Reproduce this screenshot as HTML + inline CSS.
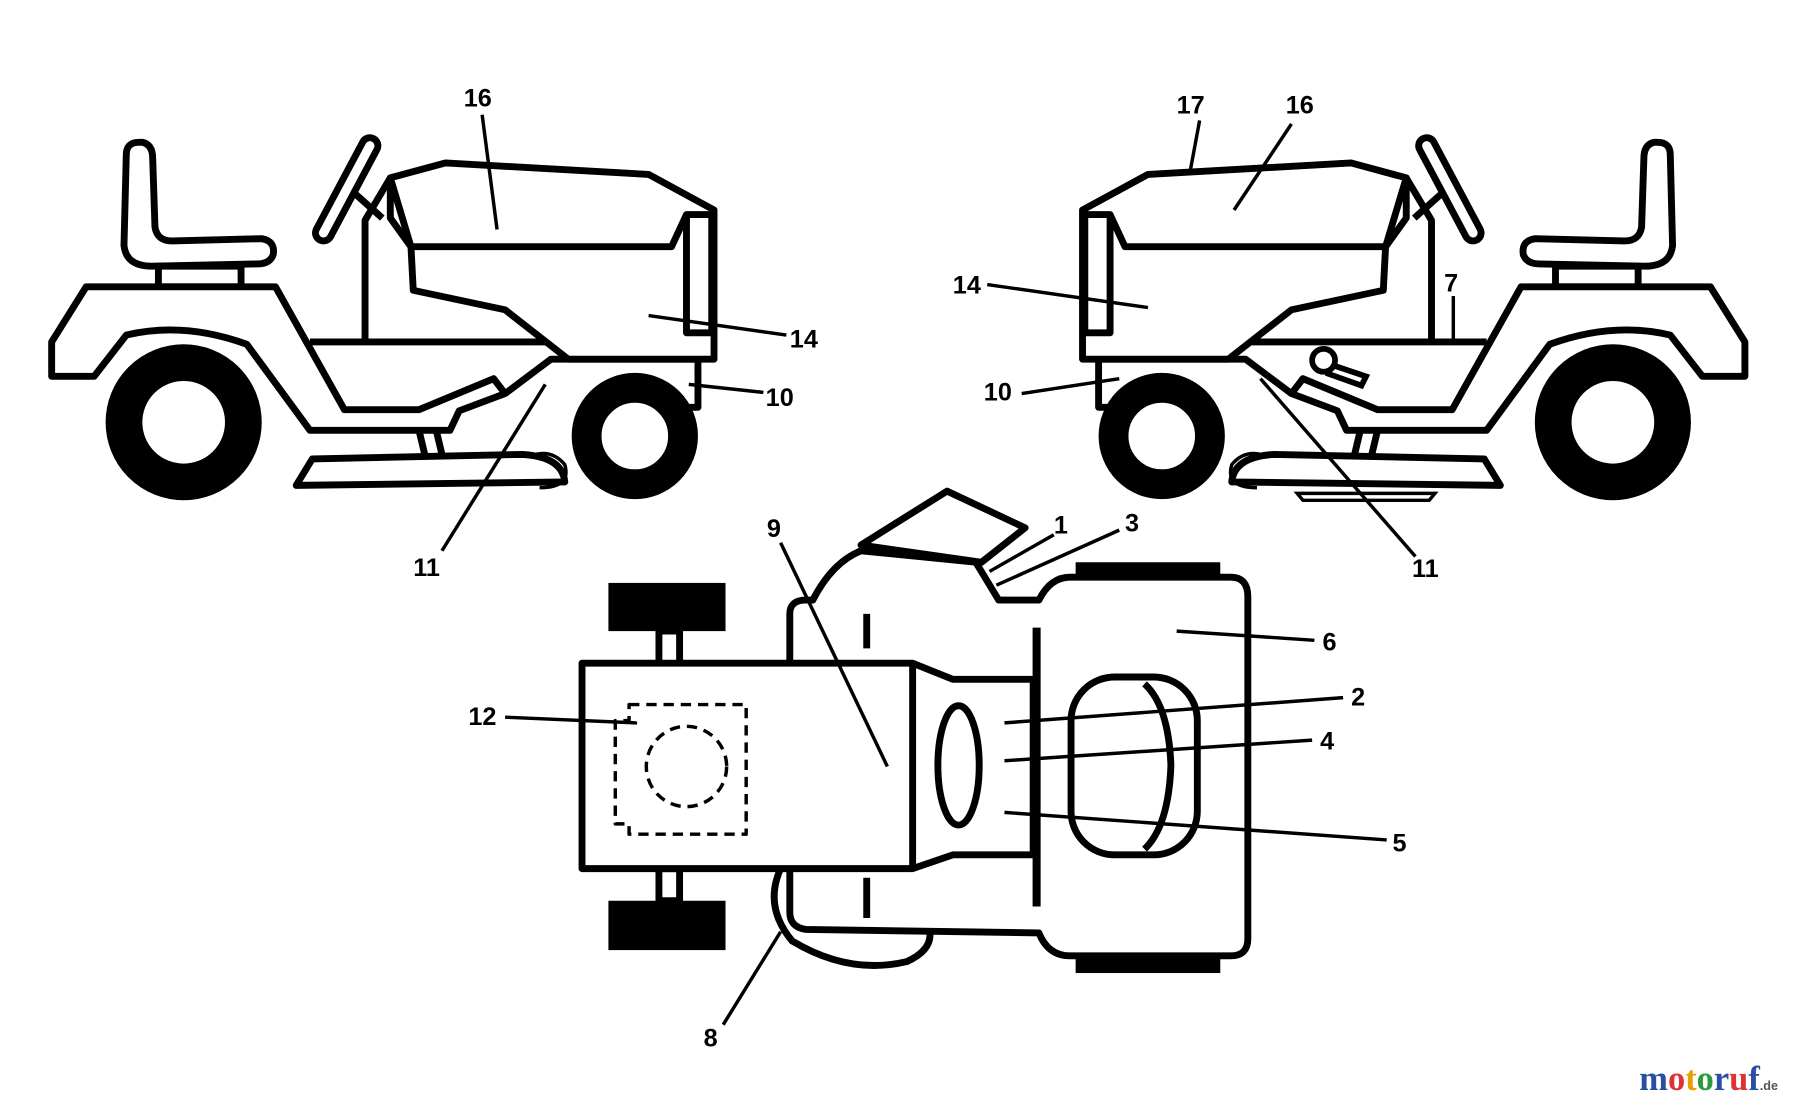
<!DOCTYPE html>
<html><head><meta charset="utf-8"><style>
html,body{margin:0;padding:0;background:#fff;}
svg{display:block;}
text{font-family:"Liberation Sans",sans-serif;font-weight:bold;font-size:22px;fill:#000;}
</style></head><body>
<svg width="1800" height="1105" viewBox="0 0 1568 963" preserveAspectRatio="none" xmlns="http://www.w3.org/2000/svg">
<defs>
<g id="tractor" fill="#fff" stroke="#000" stroke-width="6" stroke-linejoin="round">
  <path d="M110,135 Q110,124 121,124 L124,124 Q133,126 133,138 L135,198 Q137,210 150,210 L228,208 Q240,210 238,222 Q235,230 224,230 L132,232 Q110,232 108,214 Z"/>
  <rect x="138" y="232" width="72" height="18"/>
  <path d="M75,250 L240,250 L300,357 L365,357 L430,330 L440,343 L400,358 L392,375 L270,375 L215,300 Q160,280 110,292 L82,328 L45,328 L45,298 Z"/>
  <path d="M270,298 L495,298 L495,313 L608,313 L608,355 L595,355 M440,343 L480,313 L495,313" fill="none"/>
  <path d="M340,155 L388,142 L565,152 L622,183 L622,313 L495,313 L440,270 L360,253 L358,215 L340,190 Z"/>
  <path d="M360,215 L585,215 L598,187" fill="none"/>
  <rect x="598" y="187" width="22" height="103"/>
  <path d="M340,155 L358,215" fill="none"/>
  <path d="M340,155 L318,192 L318,298" fill="none"/>
  <path d="M305,165 L333,190" fill="none"/>
  <rect x="295" y="115" width="14" height="100" rx="7" transform="rotate(28 302 165)"/>
  <circle cx="160" cy="368" r="52" stroke-width="32"/>
  <circle cx="553" cy="380" r="42" stroke-width="26"/>
  <path d="M258,423 L272,400 L455,396 Q490,398 492,420 L258,423 Z"/>
  <path d="M365,375 L370,396 M380,375 L385,396" fill="none"/>
  <path d="M460,398 Q480,390 492,405 Q498,425 470,425" fill="none" stroke-width="3"/>
</g>
</defs>

<use href="#tractor"/>
<use href="#tractor" transform="translate(1565,0) scale(-1,1)"/>
<g fill="#fff" stroke="#000" stroke-width="5">
  <path d="M1160,318 L1190,328 L1186,336 L1155,325"/>
  <circle cx="1153" cy="314" r="10"/>
  <path d="M1130,430 L1250,430 L1245,436 L1135,436 Z" stroke-width="3"/>
</g>

<!-- top view -->
<g fill="#fff" stroke="#000" stroke-width="6" stroke-linejoin="round">
  <rect x="530" y="508" width="102" height="42" fill="#000" stroke="none"/>
  <rect x="530" y="785" width="102" height="43" fill="#000" stroke="none"/>
  <rect x="937" y="490" width="126" height="15" fill="#000" stroke="none"/>
  <rect x="937" y="831" width="126" height="17" fill="#000" stroke="none"/>
  <rect x="574" y="550" width="18" height="30"/>
  <rect x="574" y="757" width="18" height="28"/>
  <path d="M680,757 Q665,790 690,820 Q740,850 790,838 Q812,828 810,812" />
  <polygon points="750,475 825,428 893,460 855,490"/>
  <path d="M688,578 L688,535 Q688,523 702,523 L708,523 Q725,490 750,480 L850,490 L870,523 L905,523 Q915,503 932,503 L1072,503 Q1087,503 1087,520 L1087,818 Q1087,833 1072,833 L932,833 Q913,833 905,813 L702,810 Q688,808 688,795 L688,757 Z"/>
  <rect x="507" y="578" width="288" height="179"/>
  <path d="M795,578 L830,592 L900,592 L900,745 L830,745 L795,757" fill="none"/>
  <ellipse cx="835" cy="667" rx="18" ry="52"/>
  <path d="M903,547 L903,790" fill="none" stroke-width="7"/>
  <path d="M755,535 L755,565 M755,765 L755,800" fill="none"/>
  <rect x="933" y="590" width="110" height="155" rx="38"/>
  <path d="M997,596 Q1018,615 1020,667 Q1018,720 997,740" fill="none"/>
  <path d="M548,614 L650,614 L650,727 L548,727 L548,718 L536,718 L536,628 L548,628 Z" fill="none" stroke-width="3" stroke-dasharray="9,6"/>
  <circle cx="598" cy="668" r="35" fill="none" stroke-width="3" stroke-dasharray="9,6"/>
</g>

<!-- leader lines -->
<g stroke="#000" stroke-width="3" fill="none">
  <path d="M420,100 L433,200"/>
  <path d="M565,275 L685,292"/>
  <path d="M600,335 L665,342"/>
  <path d="M475,335 L385,480"/>
  <path d="M1045,105 L1037,148"/>
  <path d="M1125,108 L1075,183"/>
  <path d="M860,248 L1000,268"/>
  <path d="M1266,258 L1266,298"/>
  <path d="M890,343 L975,330"/>
  <path d="M1098,330 L1233,485"/>
  <path d="M918,466 L862,498"/>
  <path d="M975,462 L868,510"/>
  <path d="M680,473 L773,668"/>
  <path d="M440,625 L555,630"/>
  <path d="M1025,550 L1145,558"/>
  <path d="M875,630 L1170,608"/>
  <path d="M875,663 L1143,645"/>
  <path d="M875,708 L1208,732"/>
  <path d="M630,893 L680,812"/>
</g>

<text x="404" y="93">16</text>
<text x="688" y="303">14</text>
<text x="667" y="354">10</text>
<text x="360" y="502">11</text>
<text x="1025" y="99">17</text>
<text x="1120" y="99">16</text>
<text x="830" y="256">14</text>
<text x="1258" y="254">7</text>
<text x="857" y="349">10</text>
<text x="1230" y="503">11</text>
<text x="918" y="465">1</text>
<text x="980" y="463">3</text>
<text x="668" y="468">9</text>
<text x="408" y="632">12</text>
<text x="1152" y="567">6</text>
<text x="1177" y="615">2</text>
<text x="1150" y="653">4</text>
<text x="1213" y="742">5</text>
<text x="613" y="912">8</text>

<text x="1428" y="950" style="font-family:'Liberation Serif',serif;font-size:30px;font-weight:bold;">
<tspan fill="#2a4fa0">m</tspan><tspan fill="#d33">o</tspan><tspan fill="#e8a000">t</tspan><tspan fill="#2a9a3a">o</tspan><tspan fill="#2a4fa0">r</tspan><tspan fill="#d33">u</tspan><tspan fill="#2a4fa0">f</tspan><tspan fill="#555" style="font-size:11px;font-family:'Liberation Sans',sans-serif;">.de</tspan></text>
</svg>
</body></html>
